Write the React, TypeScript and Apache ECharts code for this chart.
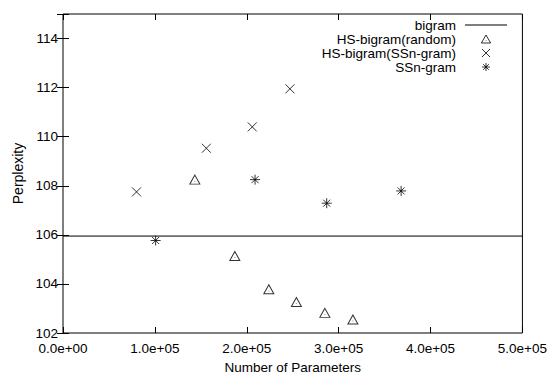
import React, { useEffect, useRef } from 'react';
import * as echarts from 'echarts';

const randomX = [143500, 187000, 224000, 254000, 285000, 315500];
const randomY = [108.25, 105.14, 103.78, 103.26, 102.82, 102.55];
const hsSsnX = [80000, 156000, 206000, 247000];
const hsSsnY = [107.75, 109.53, 110.4, 111.95];
const ssnX = [100800, 209000, 287000, 368000];
const ssnY = [105.77, 108.25, 107.29, 107.79];
const bigramX = [0, 500000];
const bigramY = [105.95, 105.95];
const seriesNames = ['bigram', 'HS-bigram(random)', 'HS-bigram(SSn-gram)', 'SSn-gram'];

const FONT = '"Liberation Sans", Arial, Helvetica, sans-serif';
const FS = 13.5;
const TRI = 'path://M5 0 L10 8.66 L0 8.66 Z M5 5.6 L5 6.1';
const CROSS = 'path://M0 0 L10 10 M10 0 L0 10';
const STAR = 'path://M5 0 L5 10 M0 5 L10 5 M1.5 1.5 L8.5 8.5 M8.5 1.5 L1.5 8.5';
const LINE_ICON = 'path://M0 0 L42 0 L42 1 L0 1 Z';

const pair = (xs: number[], ys: number[]) => xs.map((x, i) => [x, ys[i]]);

const expFmt = (v: number) => {
  const [m, e] = v.toExponential(1).split('e');
  const sign = e[0];
  const digits = e.slice(1).padStart(2, '0');
  return `${m}e${sign}${digits}`;
};

export default function App() {
  const ref = useRef<HTMLDivElement>(null);
  useEffect(() => {
    if (!ref.current) return;
    const chart = echarts.init(ref.current, undefined, { renderer: 'svg' });
    const axisCommon = {
      axisLine: { show: false },
      splitLine: { show: false },
    };
    const markerStyle = { color: 'none', borderColor: '#000', borderWidth: 1 };
    chart.setOption({
      animation: false,
      backgroundColor: '#fff',
      textStyle: { fontFamily: FONT, color: '#000' },
      grid: {
        left: 63, right: 27, top: 14, bottom: 42,
        show: true, borderColor: '#000', borderWidth: 1, backgroundColor: 'transparent',
      },
      legend: {
        orient: 'vertical',
        align: 'right',
        right: 43,
        top: 18,
        padding: 0,
        itemGap: 0,
        itemWidth: 42,
        itemHeight: 8,
        symbolKeepAspect: true,
        itemStyle: { borderWidth: 1 },
        data: [
          { name: seriesNames[0], icon: LINE_ICON, itemStyle: { color: '#000', borderWidth: 0 } },
          { name: seriesNames[1], icon: TRI },
          { name: seriesNames[2], icon: CROSS },
          { name: seriesNames[3], icon: STAR },
        ],
        textStyle: { fontFamily: FONT, fontSize: FS, color: '#000', lineHeight: 14, padding: [0, 4, 0, 0] },
      },
      xAxis: [
        {
          type: 'value', min: 0, max: 500000, interval: 100000,
          ...axisCommon,
          axisTick: { inside: true, length: 6, lineStyle: { color: '#000' } },
          axisLabel: { formatter: expFmt, margin: 8, fontSize: FS, color: '#000', fontFamily: FONT },
          name: 'Number of Parameters', nameLocation: 'middle', nameGap: 27,
          nameTextStyle: { fontSize: FS, color: '#000', fontFamily: FONT },
        },
        {
          type: 'value', position: 'top', min: 0, max: 500000, interval: 100000,
          ...axisCommon,
          axisTick: { inside: true, length: 6, lineStyle: { color: '#000' } },
          axisLabel: { show: false },
        },
      ],
      yAxis: [
        {
          type: 'value', min: 102, max: 115, interval: 2,
          ...axisCommon,
          axisTick: { inside: true, length: 6, lineStyle: { color: '#000' } },
          axisLabel: {
            margin: 5, fontSize: FS, color: '#000', fontFamily: FONT,
            formatter: (v: number) => (v > 114 ? '' : String(v)),
          },
          name: 'Perplexity', nameLocation: 'middle', nameGap: 38, nameRotate: 90,
          nameTextStyle: { fontSize: 14, color: '#000', fontFamily: FONT },
        },
        {
          type: 'value', position: 'right', min: 102, max: 115, interval: 2,
          ...axisCommon,
          axisTick: { inside: true, length: 6, lineStyle: { color: '#000' } },
          axisLabel: { show: false },
        },
      ],
      series: [
        {
          name: seriesNames[0], type: 'line', data: pair(bigramX, bigramY),
          symbol: 'none', lineStyle: { color: '#000', width: 1 }, itemStyle: { color: '#000' },
        },
        {
          name: seriesNames[1], type: 'scatter', data: pair(randomX, randomY),
          symbol: TRI, symbolSize: [10, 9], itemStyle: markerStyle,
        },
        {
          name: seriesNames[2], type: 'scatter', data: pair(hsSsnX, hsSsnY),
          symbol: CROSS, symbolSize: [9, 9], itemStyle: markerStyle,
        },
        {
          name: seriesNames[3], type: 'scatter', data: pair(ssnX, ssnY),
          symbol: STAR, symbolSize: [10, 10], itemStyle: markerStyle,
        },
      ],
    });
    return () => chart.dispose();
  }, []);
  return <div ref={ref} style={{ width: 550, height: 379, position: 'absolute', left: 0, top: 0 }} />;
}
